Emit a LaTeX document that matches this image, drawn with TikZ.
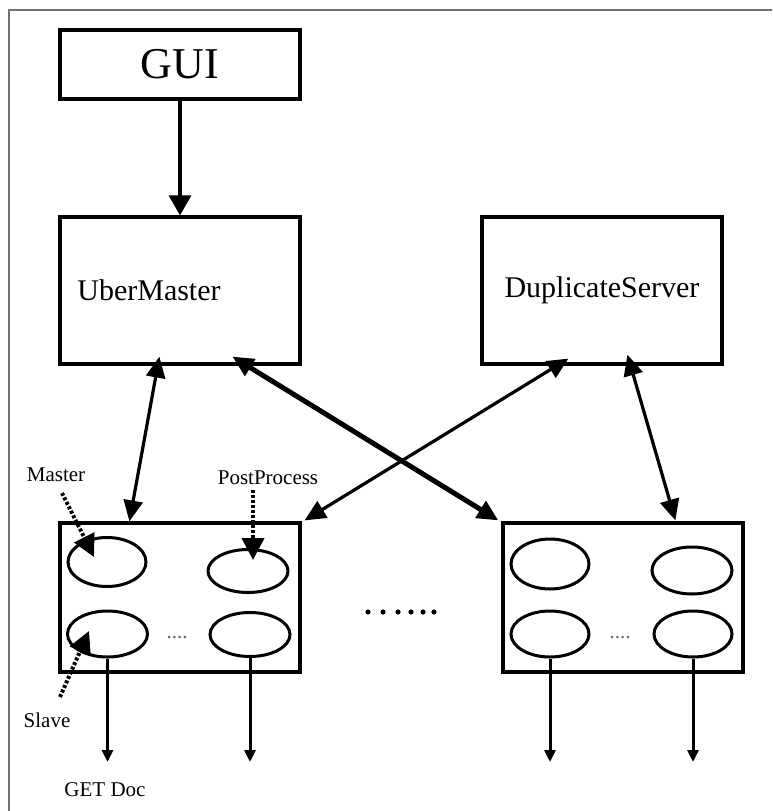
\documentclass[tikz,border=0pt]{standalone}
\usepackage{fontspec}
\setmainfont{Liberation Serif}
\usetikzlibrary{arrows.meta,shapes.geometric,calc}
\begin{document}
\begin{tikzpicture}[x=1pt,y=-1pt,
  box/.style={draw, line width=3.2pt, rectangle, inner sep=0pt},
  oval/.style={draw, ellipse, line width=3pt, inner sep=0pt},
  big/.style={font=\fontsize{30}{36}\selectfont},
  small/.style={font=\fontsize{21}{25}\selectfont},
  link/.style={line width=3.2pt, arrows={Triangle[length=21pt,width=19pt]-Triangle[length=21pt,width=19pt]}},
  single/.style={line width=3.2pt, arrows={-Triangle[length=20pt,width=22pt]}},
  downarr/.style={line width=3pt, arrows={-Triangle[length=12pt,width=11pt]}},
  dotarr/.style={line width=4pt, dash pattern=on 3pt off 2pt, arrows={-Triangle[length=22pt,width=22pt]}}
]
\useasboundingbox (0,0) rectangle (772,811);
\fill[white] (0,0) rectangle (772,811);
% frame
\draw[black!55, line width=1.5pt] (9,811) -- (9,10) -- (772,10);

% main boxes
\node[box, minimum width=240pt, minimum height=69pt, font=\fontsize{44}{50}\selectfont] (gui) at (180,64.5) {GUI};
\node[box, minimum width=240pt, minimum height=147pt] (um) at (180,290.5) {};
\node[big] (umtext) at (149,290) {UberMaster};
\node[box, big, minimum width=240pt, minimum height=147pt] (ds) at (602,290.5) {DuplicateServer};
\node[box, minimum width=240pt, minimum height=149pt] (lb) at (180,597.5) {};
\node[box, minimum width=240pt, minimum height=149pt] (rb) at (623,597.5) {};

% ellipses
\node[oval, minimum width=78pt, minimum height=49pt] (l1) at (107,562) {};
\node[oval, minimum width=80pt, minimum height=43pt] (l2) at (248,571) {};
\node[oval, minimum width=80pt, minimum height=46pt] (l3) at (107.5,634) {};
\node[oval, minimum width=80pt, minimum height=44pt] (l4) at (250,634.5) {};
\node[oval, minimum width=78pt, minimum height=50pt] (r1) at (550,564) {};
\node[oval, minimum width=80pt, minimum height=47pt] (r2) at (692,570.5) {};
\node[oval, minimum width=78pt, minimum height=46pt] (r3) at (550,634) {};
\node[oval, minimum width=78pt, minimum height=46pt] (r4) at (693,634) {};

% labels
\node[small] (master) at (56,475) {Master};
\node[small] (post) at (268,478) {PostProcess};
\node[small] (slave) at (47,720) {Slave};
\node[small] (getdoc) at (105,790) {GET Doc};
\node[small, text=black!60] (ldots) at (177,638) {....};
\node[small, text=black!60] (rdots) at (620,638) {....};

% big dots between boxes
\foreach \x in {368,383,398,411,423,434} \fill (\x,612) circle[radius=2.6pt];

% connectors
\draw[single] (gui) -- (um);
\draw[link] ($(lb.north west)+(71,0)$) -- ($(um.south west)+(101,-9)$);
\draw[link, line width=5pt] ($(um.south west)+(174,-9)$) -- ($(rb.north west)+(-3,-1)$);
\draw[link] ($(ds.south west)+(88,-7)$) -- ($(lb.north east)+(3,-1)$);
\draw[link] ($(ds.south west)+(147,-11)$) -- ($(rb.north west)+(174,-1)$);

\coordinate (floor) at (0,762);
\draw[downarr] (l3.south) -- (l3.south |- floor);
\draw[downarr] (l4.south) -- (l4.south |- floor);
\draw[downarr] (r3.south) -- (r3.south |- floor);
\draw[downarr] (r4.south) -- (r4.south |- floor);

\draw[dotarr] ($(master.center)+(6,18)$) -- ($(l1.center)+(-13,-5)$);
\draw[dotarr] ($(post.center)+(-15,12)$) -- ($(l2.center)+(5,-11)$);
\draw[dotarr] ($(slave.center)+(13,-23)$) -- ($(l3.center)+(-18.5,-3)$);
\end{tikzpicture}
\end{document}
